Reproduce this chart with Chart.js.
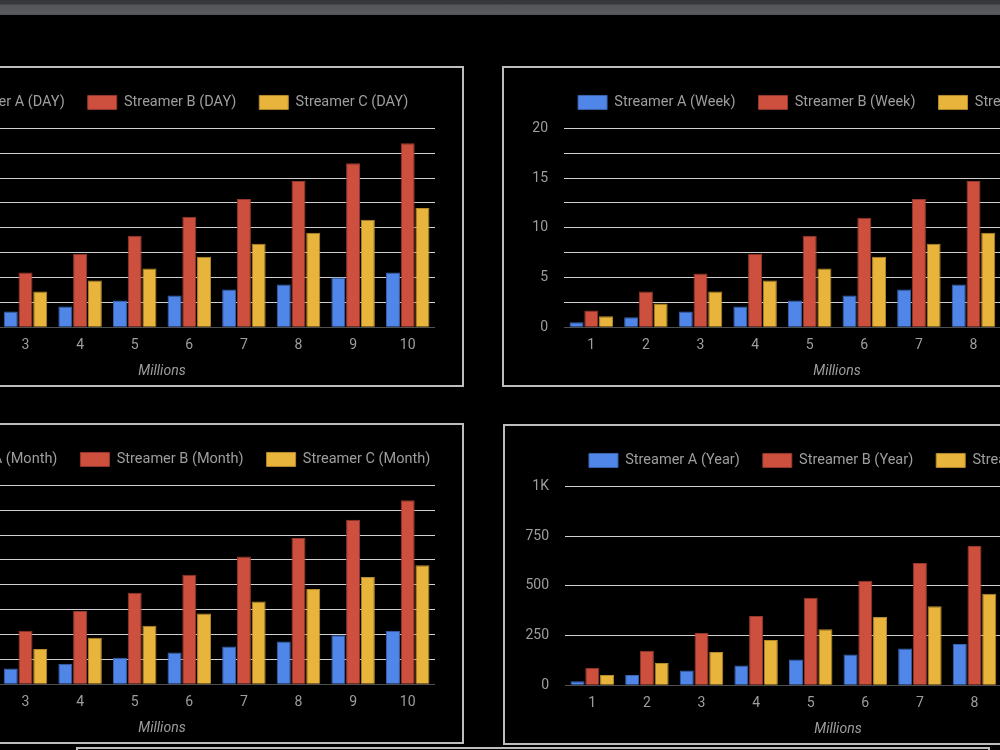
<!DOCTYPE html>
<html>
<head>
<meta charset="utf-8">
<script src="https://cdn.jsdelivr.net/npm/chart.js@4"></script>
<style>
  html, body { margin: 0; padding: 0; background: #000; width: 1000px; height: 750px; overflow: hidden; }
  .topbar { position: absolute; left: 0; top: 0; width: 1000px; height: 15px;
    background: linear-gradient(#35363a 0px, #37383c 4px, #55565a 5px, #5a5b5f 14px, #4a4a4e 15px); }
  .panel { position: absolute; width: 637px; height: 321px; }
  .panel canvas { position: absolute; left: 0; top: 0; }
  .frame { position: absolute; left: 0; top: 0; width: 637px; height: 321px; box-sizing: border-box;
    border: 2px solid #bdbdbd; pointer-events: none; }
  .stub { position: absolute; left: 76px; top: 747px; width: 914px; height: 10px; box-sizing: border-box;
    border: 2px solid #bdbdbd; }
</style>
</head>
<body>
<div class="topbar"></div>
<div class="panel" style="left:-173px; top:66px"><canvas id="day"></canvas><div class="frame"></div></div>
<div class="panel" style="left:502px; top:66px"><canvas id="week"></canvas><div class="frame"></div></div>
<div class="panel" style="left:-173px; top:423px"><canvas id="month"></canvas><div class="frame"></div></div>
<div class="panel" style="left:503px; top:424px"><canvas id="year"></canvas><div class="frame"></div></div>
<div class="stub"></div>
<script>
// x categories (millions)
const categories = ['1', '2', '3', '4', '5', '6', '7', '8', '9', '10'];

// per day (axis labels are cut off in the picture)
const dayA = [0.05, 0.10, 0.16, 0.21, 0.27, 0.32, 0.38, 0.43, 0.50, 0.55];
const dayB = [0.17, 0.36, 0.55, 0.74, 0.92, 1.11, 1.29, 1.47, 1.65, 1.85];
const dayC = [0.11, 0.24, 0.36, 0.47, 0.59, 0.71, 0.84, 0.95, 1.08, 1.20];

// per week
const weekA = [0.5, 1.0, 1.6, 2.1, 2.7, 3.2, 3.8, 4.3, 5.0, 5.5];
const weekB = [1.7, 3.6, 5.4, 7.4, 9.2, 11.0, 12.9, 14.7, 16.5, 18.5];
const weekC = [1.1, 2.4, 3.6, 4.7, 5.9, 7.1, 8.4, 9.5, 10.8, 12.0];

// per month
const monthA = [2.0, 4.0, 6.4, 8.3, 10.7, 12.8, 15.2, 17.2, 19.7, 21.5];
const monthB = [7.0, 14.4, 21.5, 29.5, 36.8, 44.0, 51.4, 58.8, 66.2, 74.0];
const monthC = [4.6, 9.6, 14.2, 18.7, 23.5, 28.5, 33.3, 38.3, 43.1, 47.9];

// per year
const yearA = [20, 52, 75, 100, 130, 155, 185, 208, 235, 260];
const yearB = [88, 173, 263, 348, 440, 525, 615, 700, 790, 880];
const yearC = [52, 112, 167, 228, 282, 343, 397, 460, 520, 580];

const weekTicks = [0, 5, 10, 15, 20];
const yearTicks = [0, 250, 500, 750, 1000];

const TEXT = '#9e9e9e';
const FILL = ['#4f86e8', '#cd503f', '#e9b43c'];
const EDGE = ['#3a64b0', '#96392c', '#b48a2c'];

Chart.defaults.font.family = 'Roboto, "Noto Sans", sans-serif';
Chart.defaults.font.size = 14;
Chart.defaults.color = TEXT;

// extra room under the legend, and centre it over the plot area
const legendFix = {
  id: 'legendFix',
  afterInit(chart) {
    const legend = chart.legend;
    const fit = legend.fit;
    legend.fit = function () {
      fit.call(this);
      this.height += 8.6;
    };
  },
  afterLayout(chart) {
    const a = chart.chartArea;
    chart.legend.left = a.left - 40;
    chart.legend.right = a.right + 40;
  }
};

function makeChart(id, period, series, yMax, yStep, labelFn) {
  new Chart(document.getElementById(id), {
    type: 'bar',
    data: {
      labels: categories,
      datasets: ['A', 'B', 'C'].map((s, i) => ({
        label: 'Streamer ' + s + ' (' + period + ')',
        data: series[i],
        backgroundColor: FILL[i],
        borderColor: EDGE[i],
        borderWidth: 1,
        categoryPercentage: 0.81,
        barPercentage: 0.95
      }))
    },
    options: {
      responsive: false,
      animation: false,
      layout: { padding: { top: 6.2, right: 29, bottom: 0, left: 0 } },
      plugins: {
        legend: {
          labels: { boxWidth: 29, boxHeight: 14, padding: 23, color: TEXT, font: { size: 14.5 } }
        },
        tooltip: { enabled: false }
      },
      scales: {
        x: {
          grid: { display: false, drawTicks: false },
          border: { display: false },
          ticks: { padding: 9.3, color: TEXT },
          title: {
            display: true, text: 'Millions', color: TEXT,
            font: { style: 'italic', size: 14 },
            padding: { top: 0, bottom: 7.5 }
          }
        },
        y: {
          min: 0, max: yMax,
          border: { display: false },
          grid: {
            drawTicks: false,
            color: c => c.tick.value === 0 ? '#505050' : '#cfcfcf'
          },
          ticks: { stepSize: yStep, padding: 16, color: TEXT, callback: labelFn },
          afterFit(scale) { scale.width = 62; }
        }
      }
    },
    plugins: [legendFix]
  });
}

function setSize(id) {
  const c = document.getElementById(id);
  c.width = 637; c.height = 321;
  c.style.width = '637px'; c.style.height = '321px';
}
['day', 'week', 'month', 'year'].forEach(setSize);

makeChart('day', 'DAY', [dayA, dayB, dayC], 2, 0.25, v => (v * 4) % 2 === 0 ? v : '');
makeChart('week', 'Week', [weekA, weekB, weekC], 20, 2.5, v => weekTicks.includes(v) ? v : '');
makeChart('month', 'Month', [monthA, monthB, monthC], 80, 10, v => v % 20 === 0 ? v : '');
makeChart('year', 'Year', [yearA, yearB, yearC], 1000, 250, v => yearTicks.includes(v) ? (v === 1000 ? '1K' : v) : '');
</script>
</body>
</html>
